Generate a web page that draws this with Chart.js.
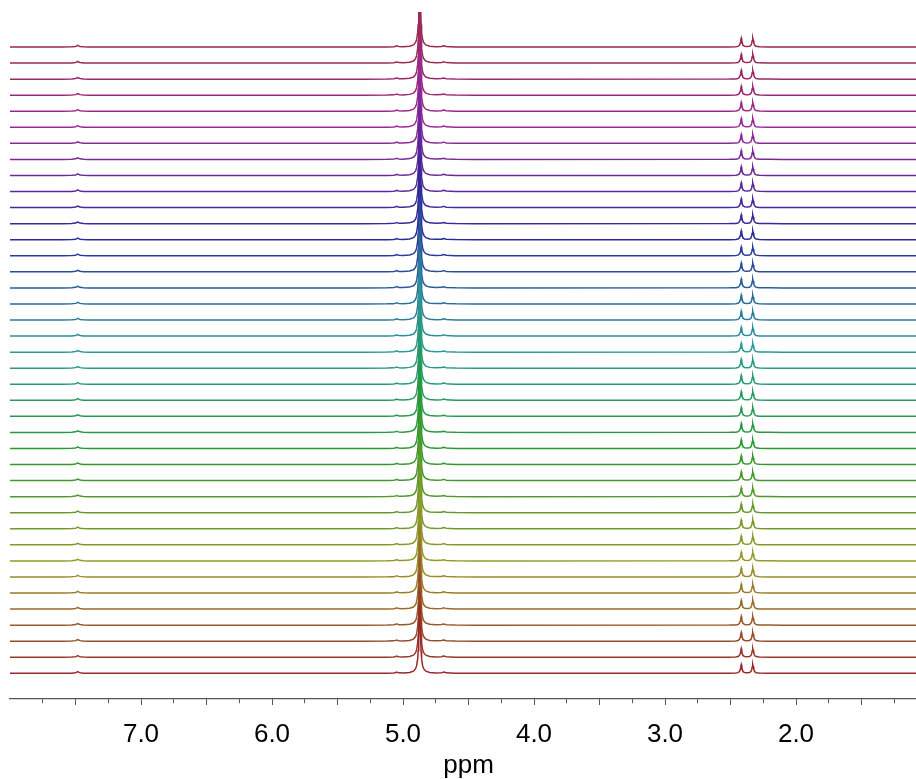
<!DOCTYPE html>
<html><head><meta charset="utf-8">
<script src="https://cdn.jsdelivr.net/npm/chart.js@4.4.1/dist/chart.umd.min.js"></script>
<style>
html,body{margin:0;padding:0;background:#fff;overflow:hidden;width:916px;height:779px}
#wrap{position:absolute;left:0;top:0;width:927px;height:779px}
</style>
</head><body><div id="wrap"><canvas id="c" width="927" height="779"></canvas></div>
<script>
// ---- data ----
const ppmRange = [8.0, 1.0];                 // left edge -> right edge
const majorTickValues = [7, 6, 5, 4, 3, 2];
const majorTickLabels = ['7.0', '6.0', '5.0', '4.0', '3.0', '2.0'];
const minorTickValues = [7.75, 7.5, 7.25, 6.75, 6.5, 6.25, 5.75, 5.5, 5.25, 4.75, 4.5, 4.25,
                         3.75, 3.5, 3.25, 2.75, 2.5, 2.25, 1.75, 1.5, 1.25];
const traceCount = 40;                       // spectra in the stack (bottom = first)
const axisTitle = 'ppm';

// one spectrum: chemical shift (ppm) and intensity (in units of the stack spacing)
const shapePpm = [
  8.00, 7.60, 7.53, 7.50, 7.49, 7.483, 7.476, 7.465, 7.44, 7.40,
  5.30, 5.12, 5.07, 5.055, 5.048, 5.041, 5.03, 5.00, 4.95, 4.92, 4.905, 4.896, 4.888, 4.884, 4.880, 4.877,
  4.873,
  4.869, 4.866, 4.862, 4.858, 4.850, 4.841, 4.826, 4.796, 4.75, 4.705, 4.697, 4.690, 4.683, 4.67, 4.60, 4.45,
  2.51, 2.46, 2.443, 2.432, 2.426, 2.422, 2.418, 2.414, 2.410, 2.404, 2.393, 2.374,
  2.355, 2.344, 2.338, 2.334, 2.330, 2.326, 2.322, 2.316, 2.305, 2.28, 2.21, 2.10, 1.00
];
const shapeIntensity = [
  0, 0, 0.01, 0.035, 0.07, 0.10, 0.07, 0.035, 0.01, 0,
  0, 0.005, 0.02, 0.05, 0.075, 0.05, 0.028, 0.018, 0.05, 0.13, 0.27, 0.46, 0.9, 1.4, 2.2, 3.4,
  4.2,
  3.4, 2.2, 1.4, 0.9, 0.46, 0.27, 0.13, 0.05, 0.022, 0.035, 0.06, 0.075, 0.06, 0.028, 0.006, 0,
  0.003, 0.015, 0.04, 0.11, 0.24, 0.41, 0.55, 0.41, 0.24, 0.11, 0.045, 0.03,
  0.045, 0.11, 0.24, 0.41, 0.55, 0.41, 0.24, 0.11, 0.04, 0.012, 0.003, 0, 0
];

// ---- styles ----
function traceColor(k) {
  const hue = k * 345 / (traceCount - 1);
  return `hsl(${hue.toFixed(1)}, 58%, 38%)`;
}

const allTicks = minorTickValues.concat(majorTickValues).sort((a, b) => b - a);

const datasets = [];
for (let k = 0; k < traceCount; k++) {
  datasets.push({
    data: shapePpm.map((x, i) => ({ x: x, y: k + shapeIntensity[i] })),
    borderColor: traceColor(k),
    borderWidth: 1.5,
    pointRadius: 0,
    fill: false,
    tension: 0
  });
}

const FONT = "'Liberation Sans', Arial, sans-serif";

new Chart(document.getElementById('c'), {
  type: 'line',
  data: { datasets: datasets },
  options: {
    responsive: false,
    animation: false,
    events: [],
    layout: { padding: { left: 10, right: 0, top: 12, bottom: 0 } },
    plugins: { legend: { display: false }, tooltip: { enabled: false } },
    scales: {
      x: {
        type: 'linear',
        reverse: true,
        min: ppmRange[1],
        max: ppmRange[0],
        afterBuildTicks: (scale) => { scale.ticks = allTicks.map(v => ({ value: v })); },
        afterFit: (scale) => { scale.height = 80; },
        border: { display: true, color: '#555', width: 1.2 },
        grid: {
          display: true,
          drawOnChartArea: false,
          drawTicks: true,
          tickLength: 6,
          tickColor: '#555',
          tickWidth: 1,
          tickBorderDash: (ctx) => {
            const v = ctx.tick ? ctx.tick.value : 0;
            return (Math.abs(v * 2 - Math.round(v * 2)) < 1e-6) ? [] : [4, 50];
          }
        },
        ticks: {
          autoSkip: false,
          maxRotation: 0,
          padding: 14,
          color: '#000',
          font: { family: FONT, size: 26 },
          callback: (value) => {
            const i = majorTickValues.findIndex(m => Math.abs(m - value) < 1e-6);
            return i >= 0 ? majorTickLabels[i] : '';
          }
        },
        title: {
          display: true,
          text: axisTitle,
          color: '#000',
          font: { family: FONT, size: 26, lineHeight: 1.0 },
          padding: { top: 0, bottom: 0 }
        }
      },
      y: {
        type: 'linear',
        display: false,
        min: -1.6,
        max: 41.18
      }
    }
  }
});
</script>
</body></html>
